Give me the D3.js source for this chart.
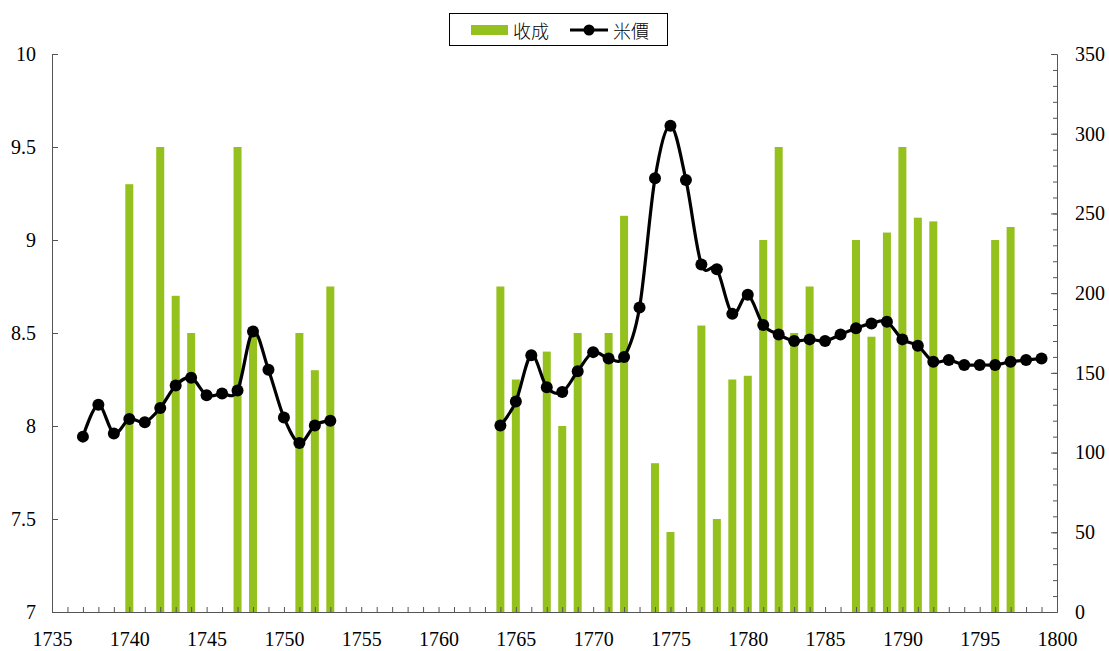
<!DOCTYPE html>
<html>
<head>
<meta charset="utf-8">
<script src="https://cdn.jsdelivr.net/npm/d3@7"></script>
<style>
    body { margin: 0; background: #fff; }
    svg { display: block; }
    .axis text { font-family: 'Liberation Serif', 'DejaVu Serif', serif; font-size: 20px; fill: #000; }
</style>
</head>
<body>
<svg id="chart" width="1109" height="651"></svg>
<script>
// years on the x axis, one entry per year
const years = d3.range(1737, 1800);

// 收成 (harvest), left axis, null where no bar
const harvest = [
    null, null, null, 9.3, null, 9.5, 8.7, 8.5, null, null, 9.5, 8.5, null, null, 8.5, 8.3, 8.75,
    null, null, null, null, null, null, null, null, null, null,
    8.75, 8.25, null, 8.4, 8.0, 8.5, null, 8.5, 9.13, null, 7.8, 7.43, null, 8.54, 7.5, 8.25, 8.27,
    9.0, 9.5, 8.5, 8.75, null, null, 9.0, 8.48, 9.04, 9.5, 9.12, 9.1, null, null, null, 9.0, 9.07,
    null, null,
];

// 米價 (rice price), right axis, null where the line breaks
const price = [
    110, 130, 112, 121, 119, 128, 142, 147, 136, 137, 139, 176, 152, 122, 106, 117, 120,
    null, null, null, null, null, null, null, null, null, null,
    117, 132, 161, 141, 138, 151, 163, 159, 160, 191, 272, 305, 271, 218, 215, 187, 199,
    180, 174, 170, 171, 170, 174, 178, 181, 182, 171, 167, 157, 158, 155, 155, 155, 157,
    158, 159,
];

const leftTicks = [7, 7.5, 8, 8.5, 9, 9.5, 10];
const rightTicks = d3.range(0, 351, 50);
const xLabels = d3.range(1735, 1801, 5);

const seriesNames = { bars: '收成', line: '米價' };

const green = '#95c11f';
const axisColor = '#555';

const plot = { left: 52, right: 1057, top: 54, bottom: 612 };

const svg = d3.select('#chart');

const x = d3.scaleLinear().domain([1735, 1800]).range([plot.left, plot.right]);
const yLeft = d3.scaleLinear().domain([7, 10]).range([plot.bottom, plot.top]);
const yRight = d3.scaleLinear().domain([0, 350]).range([plot.bottom, plot.top]);

const rows = years.map((year, i) => ({ year, harvest: harvest[i], price: price[i] }));

// bars
svg.append('g')
    .selectAll('rect')
    .data(rows.filter(d => d.harvest !== null))
    .enter()
    .append('rect')
    .attr('x', d => x(d.year) - 4)
    .attr('width', 8)
    .attr('y', d => yLeft(d.harvest))
    .attr('height', d => yLeft(7) - yLeft(d.harvest))
    .attr('fill', green);

// axes
function styleAxis(g) {
    g.attr('class', 'axis').attr('font-family', null).attr('font-size', null);
    g.select('.domain').attr('stroke', axisColor);
    g.selectAll('.tick line').attr('stroke', axisColor);
    g.selectAll('.tick text').attr('fill', null);
}

svg.append('g')
    .attr('transform', `translate(${plot.left},0)`)
    .call(d3.axisLeft(yLeft).tickValues(leftTicks).tickFormat(d => d)
        .tickSizeInner(-6).tickSizeOuter(0).tickPadding(16))
    .call(styleAxis);

// minor ticks on the right axis
svg.append('g')
    .attr('transform', `translate(${plot.right},0)`)
    .call(d3.axisRight(yRight).tickValues(d3.range(0, 351, 10)).tickFormat('')
        .tickSizeInner(-4).tickSizeOuter(0))
    .call(styleAxis);

svg.append('g')
    .attr('transform', `translate(${plot.right},0)`)
    .call(d3.axisRight(yRight).tickValues(rightTicks).tickFormat(d => d)
        .tickSizeInner(-6).tickSizeOuter(0).tickPadding(18))
    .call(styleAxis);

svg.append('g')
    .attr('transform', `translate(0,${plot.bottom})`)
    .call(d3.axisBottom(x).tickValues(d3.range(1735, 1801))
        .tickFormat(d => (xLabels.includes(d) ? d : ''))
        .tickSizeInner(-5).tickSizeOuter(0).tickPadding(20))
    .call(styleAxis);

// price line, smoothed like the spreadsheet version
const line = d3.line()
    .defined(d => d.price !== null)
    .x(d => x(d.year))
    .y(d => yRight(d.price))
    .curve(d3.curveCatmullRom.alpha(0));

svg.append('path')
    .datum(rows)
    .attr('d', line)
    .attr('fill', 'none')
    .attr('stroke', '#000')
    .attr('stroke-width', 3.2);

svg.append('g')
    .selectAll('circle')
    .data(rows.filter(d => d.price !== null))
    .enter()
    .append('circle')
    .attr('cx', d => x(d.year))
    .attr('cy', d => yRight(d.price))
    .attr('r', 6)
    .attr('fill', '#000');

// legend
const legend = svg.append('g');
legend.append('rect')
    .attr('x', 449.5).attr('y', 13.5)
    .attr('width', 218).attr('height', 32)
    .attr('fill', '#fff').attr('stroke', '#000');
legend.append('rect')
    .attr('x', 471).attr('y', 25)
    .attr('width', 37).attr('height', 10)
    .attr('fill', green);
legend.append('line')
    .attr('x1', 570).attr('x2', 608).attr('y1', 30).attr('y2', 30)
    .attr('stroke', '#000').attr('stroke-width', 3.2);
legend.append('circle')
    .attr('cx', 589).attr('cy', 30).attr('r', 5.5)
    .attr('fill', '#000');
legend.selectAll('text')
    .data([[513, seriesNames.bars], [613, seriesNames.line]])
    .enter()
    .append('text')
    .attr('x', d => d[0])
    .attr('y', 30)
    .attr('dominant-baseline', 'central')
    .style('font-family', '"Noto Sans CJK TC", "Noto Sans CJK SC", sans-serif')
    .style('font-size', '18px')
    .style('font-weight', 300)
    .text(d => d[1]);
</script>
</body>
</html>
